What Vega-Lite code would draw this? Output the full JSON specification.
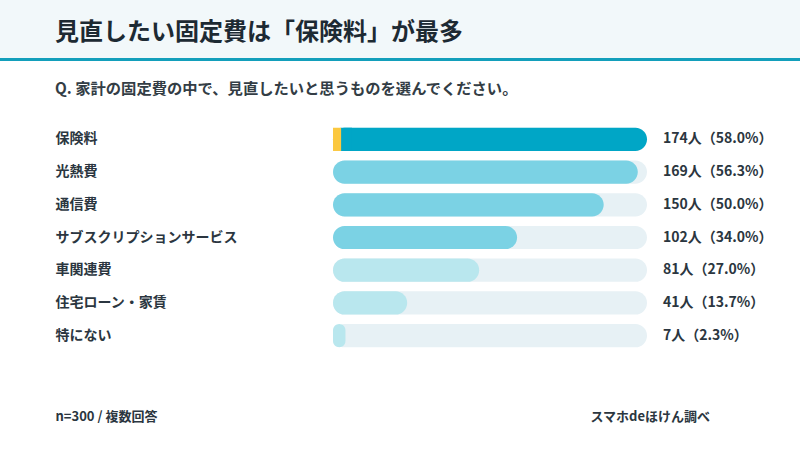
{
  "$schema": "https://vega.github.io/schema/vega-lite/v6.json",
  "padding": 0,
  "background": "#ffffff",
  "spacing": 20,
  "config": {
    "font": "Noto Sans CJK JP",
    "view": {"stroke": null}
  },
  "vconcat": [
    {
      "width": 800,
      "height": 61,
      "view": {"fill": "#f2f8fa", "stroke": null},
      "title": {
        "text": "見直したい固定費は「保険料」が最多",
        "anchor": "start",
        "dx": 55,
        "offset": -45,
        "fontSize": 24,
        "fontWeight": "bold",
        "color": "#1d2a33",
        "font": "Noto Sans CJK JP"
      },
      "data": {"values": [{"lo": 0, "hi": 3}]},
      "mark": {"type": "rect", "color": "#139fbb"},
      "encoding": {
        "y": {"field": "lo", "type": "quantitative", "scale": {"domain": [0, 61], "nice": false}, "axis": null},
        "y2": {"field": "hi"}
      }
    },
    {
      "width": 800,
      "height": 229,
      "title": {
        "text": "Q. 家計の固定費の中で、見直したいと思うものを選んでください。",
        "anchor": "start",
        "dx": 55,
        "offset": 26,
        "fontSize": 15.3,
        "fontWeight": "bold",
        "color": "#333d45",
        "font": "Noto Sans CJK JP"
      },
      "data": {
        "values": [
          {"item": "保険料", "count": 174, "pct": 58.0, "label": "174人（58.0%）"},
          {"item": "光熱費", "count": 169, "pct": 56.3, "label": "169人（56.3%）"},
          {"item": "通信費", "count": 150, "pct": 50.0, "label": "150人（50.0%）"},
          {"item": "サブスクリプションサービス", "count": 102, "pct": 34.0, "label": "102人（34.0%）"},
          {"item": "車関連費", "count": 81, "pct": 27.0, "label": "81人（27.0%）"},
          {"item": "住宅ローン・家賃", "count": 41, "pct": 13.7, "label": "41人（13.7%）"},
          {"item": "特にない", "count": 7, "pct": 2.3, "label": "7人（2.3%）"}
        ]
      },
      "encoding": {
        "y": {
          "field": "item",
          "type": "nominal",
          "sort": null,
          "scale": {"paddingInner": 0.29, "paddingOuter": 0.145},
          "axis": {
            "orient": "left",
            "offset": -55,
            "domain": false,
            "ticks": false,
            "grid": false,
            "labelAlign": "left",
            "labelPadding": 0,
            "labelLimit": 400,
            "labelFontSize": 14,
            "labelFontWeight": "bold",
            "labelColor": "#2b3640",
            "labelFont": "Noto Sans CJK JP",
            "title": "n=300 / 複数回答",
            "titleAngle": 0,
            "titleAlign": "left",
            "titleBaseline": "middle",
            "titleX": 0,
            "titleY": 293,
            "titleFontSize": 13,
            "titleFontWeight": "bold",
            "titleColor": "#2b3640",
            "titleFont": "Noto Sans CJK JP"
          }
        }
      },
      "layer": [
        {
          "mark": {"type": "bar", "color": "#e7f1f5", "cornerRadius": 12},
          "encoding": {
            "x": {
              "datum": 0,
              "type": "quantitative",
              "scale": {"domain": [0, 58], "range": [333, 647], "nice": false, "zero": false},
              "axis": {
                "orient": "bottom",
                "domain": false,
                "ticks": false,
                "labels": false,
                "grid": false,
                "title": "スマホdeほけん調べ",
                "titleAlign": "left",
                "titleAnchor": null,
                "titleBaseline": "middle",
                "titleX": 590,
                "titleY": 64,
                "titleFontSize": 13,
                "titleFontWeight": "bold",
                "titleColor": "#2b3640",
                "titleFont": "Noto Sans CJK JP"
              }
            },
            "x2": {"datum": 58}
          }
        },
        {
          "mark": {"type": "bar", "cornerRadius": 12},
          "encoding": {
            "x": {"field": "pct", "type": "quantitative"},
            "x2": {"datum": 0},
            "color": {
              "field": "count",
              "type": "quantitative",
              "scale": {"type": "threshold", "domain": [90, 170], "range": ["#b9e7ee", "#7bd2e4", "#00a6c6"]},
              "legend": null
            }
          }
        },
        {
          "transform": [{"filter": "datum.count == 174"}],
          "mark": {"type": "bar", "color": "#00a6c6"},
          "encoding": {
            "x": {"datum": 1.4},
            "x2": {"datum": 3.5}
          }
        },
        {
          "transform": [{"filter": "datum.count == 174"}],
          "mark": {"type": "bar", "color": "#fbc83f"},
          "encoding": {
            "x": {"datum": 0},
            "x2": {"datum": 1.5}
          }
        },
        {
          "mark": {
            "type": "text",
            "align": "left",
            "baseline": "middle",
            "dx": 16,
            "fontSize": 14,
            "fontWeight": "bold",
            "color": "#2b3640",
            "font": "Noto Sans CJK JP"
          },
          "encoding": {
            "x": {"datum": 58},
            "text": {"field": "label"}
          }
        }
      ]
    }
  ]
}
